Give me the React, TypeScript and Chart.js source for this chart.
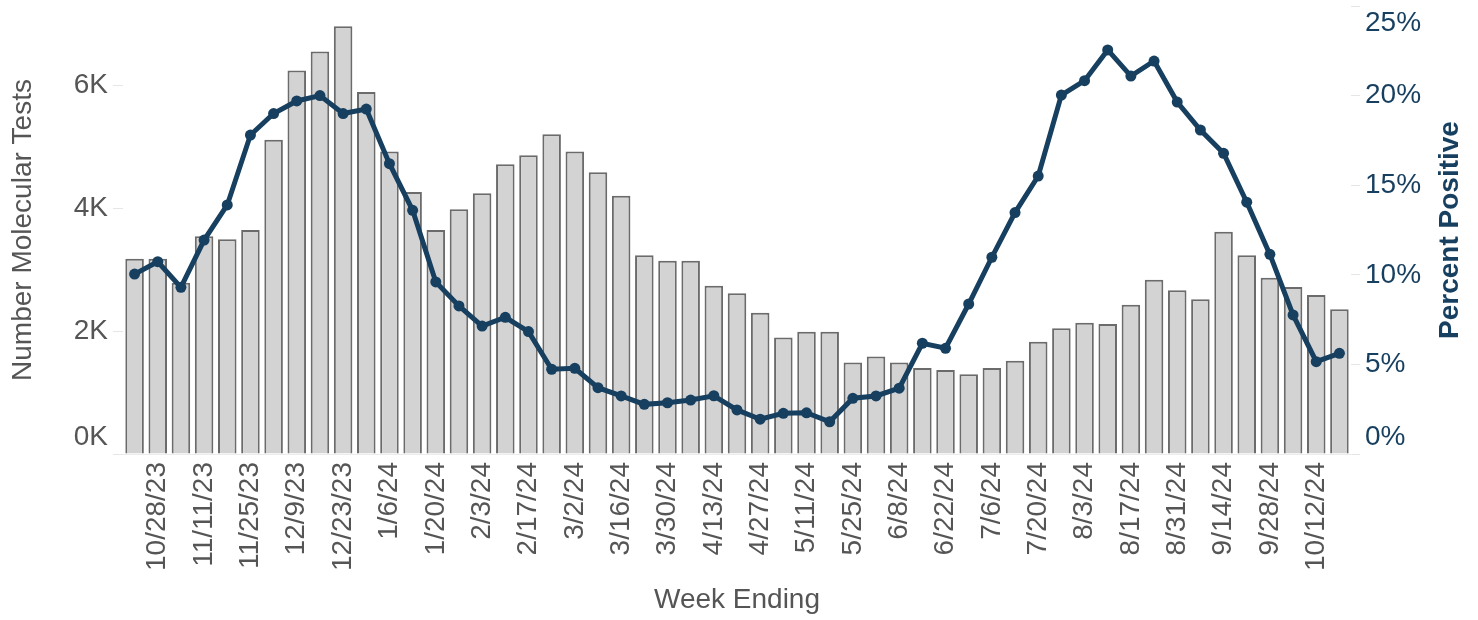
import React, { useEffect, useRef } from "react";
import { Chart, registerables } from "chart.js";

Chart.register(...registerables);

const weeks: string[] = [
  "10/21/23", "10/28/23", "11/4/23", "11/11/23", "11/18/23", "11/25/23", "12/2/23", "12/9/23", "12/16/23", "12/23/23",
  "12/30/23", "1/6/24", "1/13/24", "1/20/24", "1/27/24", "2/3/24", "2/10/24", "2/17/24", "2/24/24", "3/2/24",
  "3/9/24", "3/16/24", "3/23/24", "3/30/24", "4/6/24", "4/13/24", "4/20/24", "4/27/24", "5/4/24", "5/11/24",
  "5/18/24", "5/25/24", "6/1/24", "6/8/24", "6/15/24", "6/22/24", "6/29/24", "7/6/24", "7/13/24", "7/20/24",
  "7/27/24", "8/3/24", "8/10/24", "8/17/24", "8/24/24", "8/31/24", "9/7/24", "9/14/24", "9/21/24", "9/28/24",
  "10/5/24", "10/12/24", "10/19/24",
];

const molecularTests: number[] = [
  3180, 3180, 2790, 3550, 3500, 3650, 5120, 6250, 6560, 6970,
  5900, 4930, 4270, 3650, 3990, 4250, 4720, 4870, 5210, 4930,
  4590, 4210, 3240, 3150, 3150, 2740, 2620, 2300, 1900, 1990,
  1990, 1490, 1590, 1490, 1400, 1370, 1300, 1400, 1520, 1830,
  2050, 2140, 2120, 2430, 2840, 2670, 2520, 3620, 3240, 2870,
  2720, 2590, 2360,
];

const percentPositive: number[] = [
  10.04, 10.73, 9.3, 11.94, 13.9, 17.8, 19.0, 19.7, 20.0, 19.0,
  19.25, 16.2, 13.6, 9.6, 8.26, 7.14, 7.63, 6.83, 4.73, 4.78,
  3.7, 3.24, 2.77, 2.86, 3.01, 3.25, 2.46, 1.94, 2.27, 2.3,
  1.8, 3.11, 3.24, 3.67, 6.18, 5.9, 8.37, 10.98, 13.47, 15.51,
  20.03, 20.83, 22.55, 21.09, 21.93, 19.64, 18.08, 16.78, 14.05, 11.14,
  7.76, 5.15, 5.62,
];

const testTickValues: number[] = [0, 2000, 4000, 6000];
const testTickLabels: string[] = ["0K", "2K", "4K", "6K"];
const percentTickValues: number[] = [0, 5, 10, 15, 20, 25];
const percentTickLabels: string[] = ["0%", "5%", "10%", "15%", "20%", "25%"];

const leftTitle = "Number Molecular Tests";
const rightTitle = "Percent Positive";
const bottomTitle = "Week Ending";

const NAVY = "#173f5f";
const GRAY_TEXT = "#555555";
const FONT = "'Liberation Sans', Arial, sans-serif";

const rightTitlePlugin = {
  id: "rightTitleUp",
  afterDraw(chart: any) {
    const { ctx, chartArea } = chart;
    const scale = chart.scales.y1;
    if (!scale) return;
    ctx.save();
    ctx.translate(scale.right - 28, (chartArea.top + chartArea.bottom) / 2);
    ctx.rotate(-Math.PI / 2);
    ctx.textAlign = "center";
    ctx.textBaseline = "middle";
    ctx.fillStyle = NAVY;
    ctx.font = `bold 28px ${FONT}`;
    ctx.fillText(rightTitle, 0, 0);
    ctx.restore();
  },
};

export default function App() {
  const canvasRef = useRef<HTMLCanvasElement | null>(null);

  useEffect(() => {
    document.body.style.margin = "0";
    const canvas = canvasRef.current;
    if (!canvas) return;

    const edgeLabel = (text: string, idx: number, count: number): string | string[] => {
      if (idx === 0) return [text, ""];
      if (idx === count - 1 && count > 4) return ["", text];
      return text;
    };

    const chart = new Chart(canvas, {
      type: "bar",
      data: {
        labels: weeks,
        datasets: [
          {
            type: "line",
            label: rightTitle,
            data: percentPositive,
            yAxisID: "y1",
            borderColor: NAVY,
            backgroundColor: NAVY,
            borderWidth: 5,
            pointRadius: 5.5,
            pointBackgroundColor: NAVY,
            pointBorderWidth: 0,
            tension: 0,
            order: 0,
          } as any,
          {
            type: "bar",
            label: leftTitle,
            data: molecularTests,
            yAxisID: "y",
            backgroundColor: "#d3d3d3",
            borderColor: "#6b6b6b",
            borderWidth: 2,
            barPercentage: 0.8,
            categoryPercentage: 1,
            order: 1,
          } as any,
        ],
      },
      plugins: [rightTitlePlugin],
      options: {
        responsive: false,
        animation: false,
        layout: { padding: { top: 6, left: 0, right: 0, bottom: 0 } },
        plugins: {
          legend: { display: false },
          tooltip: { enabled: false },
        },
        scales: {
          x: {
            offset: true,
            grid: { display: false, drawTicks: false },
            border: { display: true, color: "#ececec", width: 1 },
            ticks: {
              autoSkip: false,
              minRotation: 90,
              maxRotation: 90,
              padding: 8,
              color: GRAY_TEXT,
              font: { family: FONT, size: 28 },
              callback: (_v: any, idx: number) => (idx % 2 === 1 ? weeks[idx] : ""),
            },
            title: {
              display: true,
              text: bottomTitle,
              color: GRAY_TEXT,
              font: { family: FONT, size: 28 },
              padding: { top: 0, bottom: 3 },
            },
            afterFit: (scale: any) => {
              scale.height = 166;
              scale.paddingLeft = 0;
              scale.paddingRight = 0;
            },
          },
          y: {
            position: "left",
            min: 0,
            max: 7300,
            afterBuildTicks: (scale: any) => {
              scale.ticks = testTickValues.map((value) => ({ value }));
            },
            grid: {
              drawOnChartArea: false,
              drawTicks: true,
              tickLength: 10,
              color: "#e6e6e6",
            },
            border: { display: false },
            ticks: {
              autoSkip: false,
              padding: 5,
              color: GRAY_TEXT,
              font: { family: FONT, size: 28 },
              callback: (_v: any, idx: number) => edgeLabel(testTickLabels[idx], idx, testTickLabels.length),
            },
            title: {
              display: true,
              text: leftTitle,
              color: GRAY_TEXT,
              font: { family: FONT, size: 28 },
              padding: { top: 6, bottom: 0 },
            },
            afterFit: (scale: any) => {
              scale.width = 123;
              scale.paddingTop = 0;
              scale.paddingBottom = 0;
            },
          },
          y1: {
            position: "right",
            min: 0,
            max: 25,
            afterBuildTicks: (scale: any) => {
              scale.ticks = percentTickValues.map((value) => ({ value }));
            },
            grid: {
              drawOnChartArea: false,
              drawTicks: true,
              tickLength: 9,
              color: "#e6e6e6",
            },
            border: { display: false },
            ticks: {
              autoSkip: false,
              padding: 5,
              color: NAVY,
              font: { family: FONT, size: 28 },
              callback: (_v: any, idx: number) => edgeLabel(percentTickLabels[idx], idx, percentTickLabels.length),
            },
            title: { display: false },
            afterFit: (scale: any) => {
              scale.width = 127;
              scale.paddingTop = 0;
              scale.paddingBottom = 0;
            },
          },
        },
      } as any,
    });

    return () => {
      chart.destroy();
    };
  }, []);

  return (
    <div style={{ width: 1478, height: 620 }}>
      <canvas ref={canvasRef} width={1478} height={620} style={{ display: "block" }} />
    </div>
  );
}
